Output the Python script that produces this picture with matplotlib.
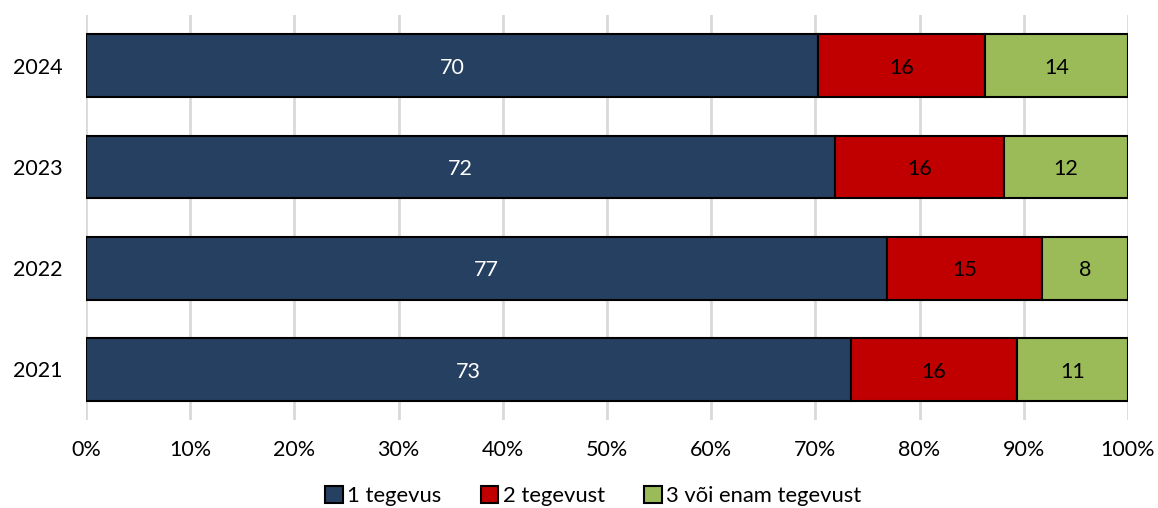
import matplotlib.pyplot as plt
import numpy as np

plt.rcParams['font.family'] = ['Lato', 'DejaVu Sans']

years = ["2021", "2022", "2023", "2024"]
one = [73.4, 76.9, 71.9, 70.3]
two = [16.0, 14.9, 16.2, 16.0]
three = [10.6, 8.2, 11.9, 13.7]
series_names = ["1 tegevus", "2 tegevust", "3 või enam tegevust"]
colors = ["#264061", "#C00000", "#9BBB59"]
label_colors = ["white", "black", "black"]

fig = plt.figure(figsize=(11.58, 5.08), dpi=100)
ax = fig.add_axes([0.0743, 0.173, 0.8997, 0.7975])

y = np.arange(len(years))
left = np.zeros(len(years))
for vals, name, c, lc in zip([one, two, three], series_names, colors, label_colors):
    bars = ax.barh(y, vals, left=left, height=0.62, color=c, edgecolor="black",
                   linewidth=1.5, label=name, zorder=3)
    for b, v in zip(bars, vals):
        ax.text(b.get_x() + b.get_width() / 2, b.get_y() + b.get_height() / 2 - 0.02,
                f"{v:.0f}", ha="center", va="center", color=lc, fontsize=15.5, zorder=4)
    left += np.array(vals)

ax.set_xlim(0, 100)
ax.set_ylim(-0.5, 3.5)
ax.set_xticks(np.arange(0, 101, 10))
ax.set_xticklabels([f"{t}%" for t in range(0, 101, 10)], fontsize=15.5)
ax.set_yticks(y)
ax.set_yticklabels(years, fontsize=15.5)
ax.tick_params(length=0, pad=14)
ax.tick_params(axis="y", pad=17)
ax.grid(axis="x", color="#D9D9D9", linewidth=2, zorder=0)
for s in ax.spines.values():
    s.set_visible(False)

ax.legend(loc="center", bbox_to_anchor=(0.487, -0.188), ncol=3, frameon=False,
          fontsize=15.8, handlelength=0.8, handleheight=0.8, handletextpad=0.2,
          columnspacing=1.8)

fig.savefig("out.png", dpi=100)
